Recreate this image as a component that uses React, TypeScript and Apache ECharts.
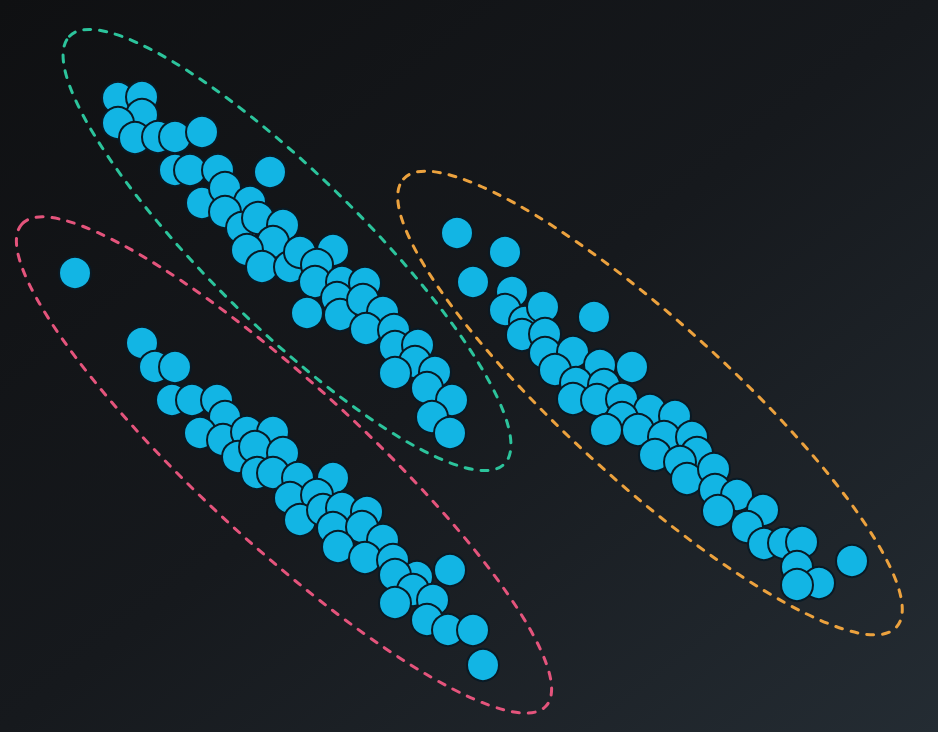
import React, { useEffect, useRef } from 'react';
import * as echarts from 'echarts';

// point positions (x right, y down), one list per cluster
const clusterGreen: [number, number][] = [
  [11.8, 9.8], [14.2, 9.7], [14.2, 11.5], [11.8, 12.3], [13.5, 13.8], [15.8, 13.7], [17.5, 13.7],
  [20.2, 13.2], [17.5, 17.0], [19.0, 17.0], [21.8, 17.0], [27.0, 17.2], [20.2, 20.3], [22.5, 18.8],
  [25.0, 20.2], [22.5, 21.2], [24.2, 22.8], [25.8, 21.8], [28.3, 22.5], [27.3, 24.2], [24.7, 25.0],
  [26.2, 26.7], [29.0, 26.7], [30.0, 25.2], [33.3, 25.0], [31.7, 26.5], [31.5, 28.2], [34.2, 28.2],
  [36.5, 28.3], [33.7, 29.8], [30.7, 31.3], [34.0, 31.5], [36.3, 30.0], [38.3, 31.2], [36.6, 32.9],
  [39.4, 33.0], [39.5, 34.7], [41.8, 34.5], [41.5, 36.2], [39.5, 37.3], [43.5, 37.2], [42.7, 38.8],
  [45.2, 40.0], [43.2, 41.7], [45.0, 43.3],
];

const clusterPink: [number, number][] = [
  [7.5, 27.3], [14.2, 34.3], [15.5, 36.7], [17.5, 36.7], [17.2, 40.0], [19.2, 40.0], [21.7, 40.0],
  [22.5, 41.7], [20.0, 43.3], [22.3, 44.0], [24.7, 43.2], [27.3, 43.2], [23.8, 45.7], [25.5, 44.7],
  [28.3, 45.3], [25.7, 47.3], [27.3, 47.3], [29.8, 47.8], [33.3, 47.8], [29.0, 49.8], [31.7, 49.5],
  [30.0, 52.0], [32.3, 51.0], [34.2, 50.8], [36.7, 51.2], [33.3, 52.8], [36.2, 52.7], [33.8, 54.7],
  [38.3, 54.0], [36.5, 55.8], [39.3, 56.0], [41.7, 57.7], [45.0, 57.0], [39.5, 57.5], [41.3, 59.0],
  [43.3, 60.0], [39.5, 60.3], [42.7, 62.0], [44.8, 63.0], [47.3, 63.0], [48.3, 66.5],
];

const clusterOrange: [number, number][] = [
  [45.7, 23.3], [50.5, 25.2], [47.3, 28.2], [51.2, 29.2], [50.5, 31.0], [52.5, 32.2], [54.3, 30.7],
  [59.4, 31.7], [52.2, 33.5], [54.5, 33.4], [54.5, 35.3], [57.3, 35.2], [55.5, 37.0], [60.0, 36.5],
  [63.2, 36.7], [57.6, 38.3], [60.4, 38.5], [57.3, 39.9], [59.7, 40.0], [62.2, 39.9], [65.0, 41.0],
  [67.5, 41.6], [62.2, 41.8], [60.6, 43.0], [63.8, 43.0], [66.4, 43.7], [69.2, 43.7], [69.7, 45.3],
  [65.5, 45.5], [68.0, 46.2], [68.7, 47.9], [71.4, 46.9], [71.5, 49.0], [73.7, 49.5], [76.3, 51.0],
  [71.8, 51.1], [74.7, 52.7], [76.4, 54.4], [78.4, 54.3], [80.2, 54.2], [85.2, 56.1], [79.7, 56.7],
  [81.9, 58.3], [79.7, 58.5],
];

// cluster outlines: centre, half axes, tilt in degrees
const outlineCenters: [number, number][] = [[28.7, 25.0], [28.4, 46.5], [65.0, 40.3]];
const outlineRadii: [number, number][] = [[30.5, 7.6], [35.6, 8.0], [33.3, 8.0]];
const outlineTilt = [44.5, 42.6, 42.3];

const outlineColors = ['#2cc49c', '#e4547c', '#eca23e'];

export default function App() {
  const chartRef = useRef<HTMLDivElement>(null);

  useEffect(() => {
    if (!chartRef.current) return;
    document.body.style.margin = '0';
    const chart = echarts.init(chartRef.current, undefined, { renderer: 'svg' });

    const outlineData = outlineCenters.map((c, i) => [c[0], c[1], outlineRadii[i][0], outlineRadii[i][1], outlineTilt[i], i]);

    const pointStyle = {
      color: '#12b5e4',
      borderColor: '#091a25',
      borderWidth: 2,
      opacity: 1,
    };

    const option: echarts.EChartsOption = {
      animation: false,
      backgroundColor: new echarts.graphic.LinearGradient(0, 0, 1, 1, [
        { offset: 0, color: '#0f1012' },
        { offset: 0.5, color: '#16191d' },
        { offset: 1, color: '#242c33' },
      ]),
      grid: { left: 0, right: 0, top: 0, bottom: 0 },
      xAxis: { type: 'value', min: 0, max: 93.8, show: false },
      yAxis: { type: 'value', min: 0, max: 73.2, inverse: true, show: false },
      series: [
        {
          type: 'custom',
          data: outlineData,
          z: 1,
          silent: true,
          renderItem: (params: any, api: any) => {
            const c = api.coord([api.value(0), api.value(1)]);
            const s = api.size([api.value(2), api.value(3)]);
            const idx = api.value(5);
            return {
              type: 'ellipse',
              x: c[0],
              y: c[1],
              rotation: (-api.value(4) * Math.PI) / 180,
              shape: { cx: 0, cy: 0, rx: s[0], ry: s[0] * (api.value(3) / api.value(2)) },
              style: {
                fill: 'none',
                stroke: outlineColors[idx],
                lineWidth: 3,
                lineCap: 'round',
                lineDash: [7, 9],
              },
            };
          },
        },
        {
          type: 'scatter',
          data: clusterGreen,
          symbolSize: 32,
          z: 2,
          itemStyle: pointStyle,
        },
        {
          type: 'scatter',
          data: clusterPink,
          symbolSize: 32,
          z: 2,
          itemStyle: pointStyle,
        },
        {
          type: 'scatter',
          data: clusterOrange,
          symbolSize: 32,
          z: 2,
          itemStyle: pointStyle,
        },
      ],
    };

    chart.setOption(option);

    return () => {
      chart.dispose();
    };
  }, []);

  return <div ref={chartRef} style={{ width: '938px', height: '732px' }} />;
}
